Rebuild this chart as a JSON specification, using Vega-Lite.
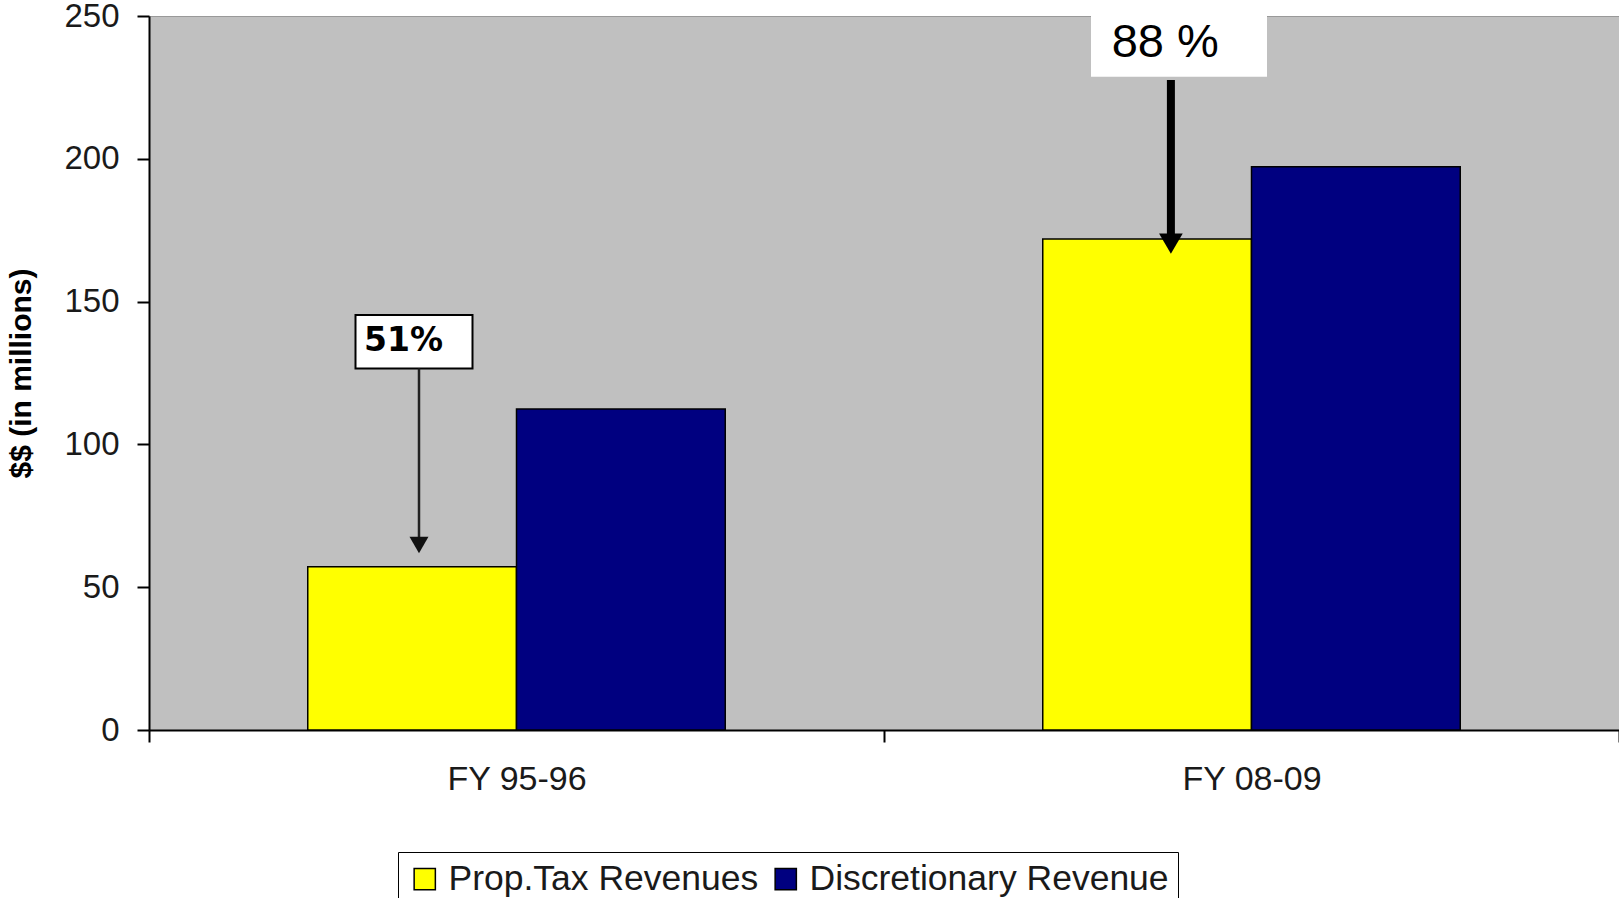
{
  "$schema": "https://vega.github.io/schema/vega-lite/v6.json",
  "autosize": "none",
  "width": 1470,
  "height": 714,
  "padding": {"left": 149, "top": 16, "right": 0, "bottom": 168},
  "background": "white",
  "config": {
    "view": {"fill": "#C0C0C0", "stroke": "#999999", "strokeWidth": 1},
    "font": "Liberation Sans"
  },
  "layer": [
    {
      "data": {"values": [
        {"year": "FY 95-96", "series": "Prop.Tax Revenues", "value": 57.2},
        {"year": "FY 95-96", "series": "Discretionary Revenue", "value": 112.4},
        {"year": "FY 08-09", "series": "Prop.Tax Revenues", "value": 171.9},
        {"year": "FY 08-09", "series": "Discretionary Revenue", "value": 197.2}
      ]},
      "mark": {"type": "bar", "stroke": "#000000", "strokeWidth": 1.5},
      "encoding": {
        "x": {
          "field": "year", "type": "nominal",
          "scale": {"domain": ["FY 95-96", "FY 08-09"], "paddingInner": 0, "paddingOuter": 0},
          "axis": {
            "title": null, "labelAngle": 0, "labelFontSize": 34, "labelColor": "#1a1a1a",
            "labelPadding": 20, "tickSize": 12, "tickColor": "#000000", "tickWidth": 2,
            "tickBand": "extent", "domainColor": "#000000", "domainWidth": 2, "grid": false
          }
        },
        "xOffset": {
          "field": "series", "type": "nominal",
          "scale": {"domain": ["Prop.Tax Revenues", "Discretionary Revenue"], "paddingInner": 0, "paddingOuter": 0.7605}
        },
        "y": {
          "field": "value", "type": "quantitative",
          "scale": {"domain": [0, 250], "nice": false},
          "axis": {
            "title": "$$ (in millions)", "titleFontSize": 30, "titleFontWeight": "bold", "titleColor": "#000000",
            "titleAngle": -90, "titleX": -119, "titleY": 357, "titleAlign": "center", "titleBaseline": "alphabetic",
            "values": [0, 50, 100, 150, 200, 250], "labelFontSize": 33, "labelColor": "#1a1a1a",
            "labelPadding": 18, "tickSize": 12, "tickColor": "#000000", "tickWidth": 2,
            "domainColor": "#000000", "domainWidth": 2, "grid": false
          }
        },
        "color": {
          "field": "series", "type": "nominal",
          "scale": {"domain": ["Prop.Tax Revenues", "Discretionary Revenue"], "range": ["#FFFF00", "#000080"]},
          "legend": {
            "title": null, "orient": "none", "legendX": 249, "legendY": 836, "direction": "horizontal",
            "symbolType": "square", "symbolSize": 450, "symbolStrokeColor": "#000000", "symbolStrokeWidth": 1.5,
            "symbolOpacity": 1, "labelFontSize": 35.5, "labelColor": "#1a1a1a", "labelOffset": 6, "labelLimit": 0,
            "columnPadding": 9, "padding": 9, "strokeColor": "#000000", "fillColor": "#ffffff"
          }
        }
      }
    },
    {
      "data": {"values": [{"year": "FY 95-96", "top": 145.3, "bottom": 126.6}]},
      "mark": {"type": "bar", "width": 117, "xOffset": -102.5, "fill": "#ffffff", "stroke": "#000000", "strokeWidth": 2},
      "encoding": {
        "x": {"field": "year", "type": "nominal"},
        "y": {"field": "top", "type": "quantitative"},
        "y2": {"field": "bottom"}
      }
    },
    {
      "data": {"values": [{"year": "FY 95-96", "from": 126.6, "to": 66}]},
      "mark": {"type": "rule", "xOffset": -97.5, "color": "#222222", "strokeWidth": 2.5},
      "encoding": {
        "x": {"field": "year", "type": "nominal"},
        "y": {"field": "from", "type": "quantitative"},
        "y2": {"field": "to"}
      }
    },
    {
      "data": {"values": [{"year": "FY 95-96", "tip": 64.8}]},
      "mark": {"type": "point", "shape": "triangle-down", "filled": true, "size": 360, "xOffset": -97.5, "color": "#111111", "opacity": 1},
      "encoding": {
        "x": {"field": "year", "type": "nominal"},
        "y": {"field": "tip", "type": "quantitative"}
      }
    },
    {
      "data": {"values": [{"year": "FY 95-96", "label": "51%", "pos": 132.8}]},
      "mark": {"type": "text", "align": "left", "baseline": "alphabetic", "xOffset": -152.5, "font": "DejaVu Sans", "fontWeight": "bold", "fontSize": 33, "color": "#000000"},
      "encoding": {
        "x": {"field": "year", "type": "nominal"},
        "y": {"field": "pos", "type": "quantitative"},
        "text": {"field": "label"}
      }
    },
    {
      "data": {"values": [{"year": "FY 08-09", "top": 250.7, "bottom": 228.7}]},
      "mark": {"type": "bar", "width": 176, "xOffset": -72.5, "fill": "#ffffff", "strokeWidth": 0},
      "encoding": {
        "x": {"field": "year", "type": "nominal"},
        "y": {"field": "top", "type": "quantitative"},
        "y2": {"field": "bottom"}
      }
    },
    {
      "data": {"values": [{"year": "FY 08-09", "from": 227.6, "to": 172}]},
      "mark": {"type": "rule", "xOffset": -80.6, "color": "#000000", "strokeWidth": 8},
      "encoding": {
        "x": {"field": "year", "type": "nominal"},
        "y": {"field": "from", "type": "quantitative"},
        "y2": {"field": "to"}
      }
    },
    {
      "data": {"values": [{"year": "FY 08-09", "tip": 170.3}]},
      "mark": {"type": "point", "shape": "triangle-down", "filled": true, "size": 560, "xOffset": -80.6, "color": "#000000", "opacity": 1},
      "encoding": {
        "x": {"field": "year", "type": "nominal"},
        "y": {"field": "tip", "type": "quantitative"}
      }
    },
    {
      "data": {"values": [{"year": "FY 08-09", "label": "88 %", "pos": 235.7}]},
      "mark": {"type": "text", "align": "left", "baseline": "alphabetic", "xOffset": -139.8, "font": "Liberation Sans", "fontSize": 47, "color": "#000000"},
      "encoding": {
        "x": {"field": "year", "type": "nominal"},
        "y": {"field": "pos", "type": "quantitative"},
        "text": {"field": "label"}
      }
    }
  ]
}
